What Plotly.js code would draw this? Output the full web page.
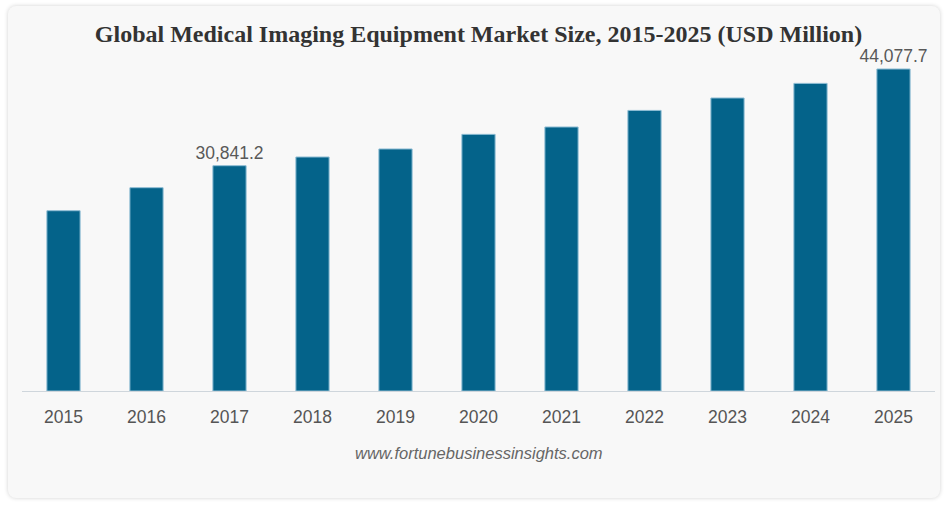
<!DOCTYPE html>
<html><head><meta charset="utf-8">
<script src="https://cdn.plot.ly/plotly-3.0.1.min.js"></script>
<style>
html,body{margin:0;padding:0;background:#fff;width:946px;height:505px;overflow:hidden;}
#card{position:absolute;left:8px;top:6px;width:932px;height:492px;background:#f8f8f8;border-radius:8px;box-shadow:0 0 4px rgba(0,0,0,0.18);}
#chart{position:absolute;left:0;top:0;width:946px;height:505px;}
</style></head>
<body>
<div id="card"></div>
<div id="chart"></div>
<script>
var years = ['2015','2016','2017','2018','2019','2020','2021','2022','2023','2024','2025'];
var marketSize = [24680, 27830, 30841.2, 32030, 33130, 35130, 36140, 38410, 40110, 42110, 44077.7];
var labelText = ['', '', '30,841.2', '', '', '', '', '', '', '', '44,077.7'];

var trace = {
  type: 'bar',
  x: years,
  y: marketSize,
  text: labelText,
  textposition: 'outside',
  constraintext: 'none',
  cliponaxis: false,
  textfont: {family: 'Liberation Sans, Arial, sans-serif', size: 17.5, color: '#595959'},
  marker: {color: '#04638a', line: {color: '#8dbcd3', width: 1}},
  hoverinfo: 'x+y'
};

var layout = {
  width: 946, height: 505,
  paper_bgcolor: 'rgba(0,0,0,0)',
  plot_bgcolor: 'rgba(0,0,0,0)',
  margin: {l: 22, r: 11, t: 60, b: 114},
  bargap: 0.6,
  showlegend: false,
  title: {
    text: 'Global Medical Imaging Equipment Market Size, 2015-2025 (USD Million)',
    font: {family: 'Liberation Serif, Times New Roman, serif', size: 24, color: '#333', weight: 'bold'},
    x: 0.5, xref: 'paper', xanchor: 'center',
    y: 1 - 34/505, yref: 'container', yanchor: 'middle'
  },
  xaxis: {
    type: 'category',
    showgrid: false,
    showline: true, linecolor: '#cfd6dc', linewidth: 1,
    ticks: '', ticklabelstandoff: 10,
    tickfont: {family: 'Liberation Sans, Arial, sans-serif', size: 17.5, color: '#555'}
  },
  yaxis: {
    range: [0, 45310],
    visible: false,
    showgrid: false, zeroline: false
  },
  annotations: [{
    text: '<i>www.fortunebusinessinsights.com</i>',
    xref: 'paper', yref: 'paper', x: 0.5, y: (391 - 453) / 331,
    xanchor: 'center', yanchor: 'middle', showarrow: false,
    font: {family: 'Liberation Sans, Arial, sans-serif', size: 16.5, color: '#666'}
  }]
};

Plotly.newPlot('chart', [trace], layout, {displayModeBar: false, staticPlot: true});
</script>
</body></html>
